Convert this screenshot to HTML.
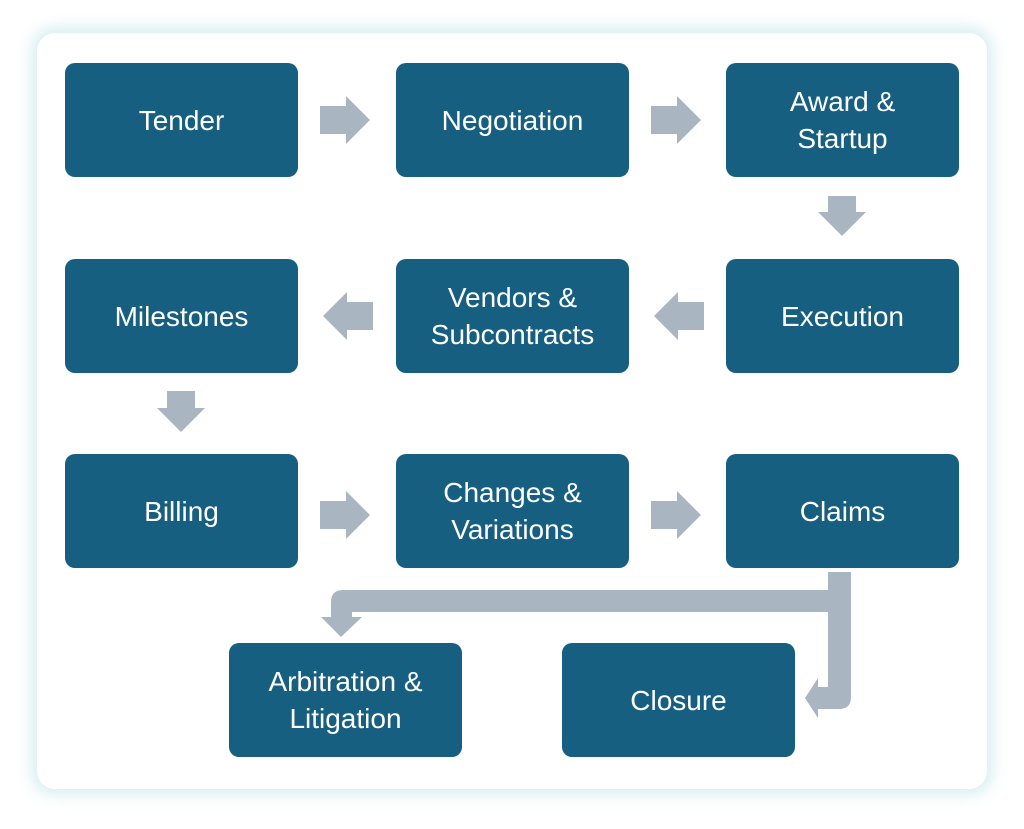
<!DOCTYPE html>
<html><head><style>
html,body{margin:0;padding:0;background:#fff;}
body{width:1024px;height:829px;position:relative;overflow:hidden;font-family:"Liberation Sans",sans-serif;}
.card{position:absolute;left:37px;top:33px;width:950px;height:756px;background:#fff;border-radius:18px;box-shadow:0 0 14px 6px rgba(190,228,230,0.6);}
.b{position:absolute;width:233px;height:114px;background:#175f80;border-radius:10px;color:#fff;font-size:28px;line-height:37px;display:flex;align-items:center;justify-content:center;text-align:center;}
svg{position:absolute;left:0;top:0;}
</style></head><body>
<div class="card"></div>
<svg width="1024" height="829">
<g fill="#a9b5c1">
<!-- right arrows -->
<polygon points="320,106 346,106 346,96 370,120 346,144 346,134 320,134"/>
<polygon points="651,106 677,106 677,96 701,120 677,144 677,134 651,134"/>
<polygon points="320,501 346,501 346,491 370,515 346,539 346,529 320,529"/>
<polygon points="651,501 677,501 677,491 701,515 677,539 677,529 651,529"/>
<!-- left arrows -->
<polygon points="373,302 347,302 347,292 323,316 347,340 347,330 373,330"/>
<polygon points="704,302 678,302 678,292 654,316 678,340 678,330 704,330"/>
<!-- down arrows -->
<polygon points="828,196 856,196 856,212 866,212 842,236 818,212 828,212"/>
<polygon points="167,391 195,391 195,408 205,408 181,432 157,408 167,408"/>
<!-- bottom connectors -->
<path d="M828,572 H851 V697 Q851,709 839,709 H818 V718 L805,698 L818,678 V687 H828 V612 H352 V617 H362 L341,637 L321,617 H331 V602 Q331,590 343,590 H828 Z"/>
</g>
</svg>
<div class="b" style="left:65px;top:63px">Tender</div>
<div class="b" style="left:396px;top:63px">Negotiation</div>
<div class="b" style="left:726px;top:63px">Award &amp;<br>Startup</div>
<div class="b" style="left:65px;top:259px">Milestones</div>
<div class="b" style="left:396px;top:259px">Vendors &amp;<br>Subcontracts</div>
<div class="b" style="left:726px;top:259px">Execution</div>
<div class="b" style="left:65px;top:454px">Billing</div>
<div class="b" style="left:396px;top:454px">Changes &amp;<br>Variations</div>
<div class="b" style="left:726px;top:454px">Claims</div>
<div class="b" style="left:229px;top:643px">Arbitration &amp;<br>Litigation</div>
<div class="b" style="left:562px;top:643px">Closure</div>
</body></html>
